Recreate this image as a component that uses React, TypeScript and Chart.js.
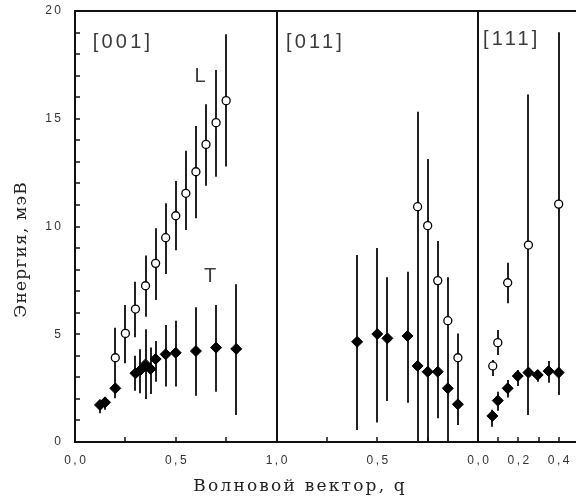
import { useEffect, useRef } from 'react';
import { Chart, registerables } from 'chart.js';
Chart.register(...registerables);

// ---- [001] direction (q from 0 to 1) ----
const L001_q = [0.20, 0.25, 0.30, 0.35, 0.40, 0.45, 0.50, 0.55, 0.60, 0.65, 0.70, 0.75];
const L001_E = [3.91, 5.04, 6.17, 7.25, 8.29, 9.48, 10.50, 11.54, 12.54, 13.81, 14.82, 15.84];
const L001_lo = [2.6, 3.65, 4.86, 5.81, 6.59, 7.8, 8.9, 9.84, 10.38, 11.89, 12.31, 12.78];
const L001_hi = [5.30, 6.36, 7.44, 8.65, 9.92, 11.08, 12.11, 13.52, 14.66, 15.67, 17.26, 18.92];

const T001_q = [0.124, 0.149, 0.20, 0.30, 0.325, 0.35, 0.375, 0.40, 0.45, 0.50, 0.60, 0.70, 0.80];
const T001_E = [1.72, 1.84, 2.49, 3.19, 3.34, 3.60, 3.39, 3.85, 4.07, 4.14, 4.22, 4.38, 4.32];
const T001_lo = [1.33, 1.5, 2.03, 2.38, 2.26, 2.0, 2.23, 2.8, 2.57, 2.57, 2.15, 2.33, 1.25];
const T001_hi = [1.9, 2.0, 2.9, 4.0, 4.3, 5.23, 4.38, 4.69, 5.43, 5.63, 6.25, 6.36, 7.32];

// ---- [011] direction (q runs from 1 back to 0) ----
const L011_q = [0.30, 0.25, 0.20, 0.15, 0.10];
const L011_E = [10.92, 10.04, 7.49, 5.63, 3.91];
const L011_lo = [3.53, 3.26, 3.26, 2.49, 1.75];
const L011_hi = [15.33, 13.13, 9.33, 7.64, 5.04];

const T011_q = [0.60, 0.50, 0.45, 0.35, 0.30, 0.25, 0.20, 0.15, 0.10];
const T011_E = [4.65, 5.01, 4.81, 4.92, 3.53, 3.26, 3.26, 2.49, 1.75];
const T011_lo = [0.56, 0.9, 1.9, 1.82, 0, 0, 1.1, 0, 0.79];
const T011_hi = [8.68, 9.0, 7.64, 7.9, 3.53, 3.26, 3.26, 2.49, 1.75];

// ---- [111] direction (q from 0) ----
const L111_q = [0.073, 0.098, 0.147, 0.25, 0.40];
const L111_E = [3.53, 4.61, 7.39, 9.14, 11.04];
const L111_lo = [3.06, 4.04, 6.44, 3.22, 3.22];
const L111_hi = [3.8, 5.2, 8.32, 16.13, 19.01];

const T111_q = [0.071, 0.098, 0.147, 0.197, 0.25, 0.296, 0.35, 0.40];
const T111_E = [1.21, 1.92, 2.49, 3.06, 3.22, 3.11, 3.29, 3.22];
const T111_lo = [0.71, 1.45, 2.07, 2.6, 1.25, 2.8, 2.75, 2.18];
const T111_hi = [1.5, 2.33, 2.88, 3.34, 3.22, 3.34, 3.76, 3.22];

// ---- axes ----
const xTickPos = [0.25, 0.5, 0.75, 1.25, 1.5, 1.75, 2.1, 2.2, 2.3, 2.4];
const xLabelPos = [0, 0.5, 1, 1.5, 2, 2.2, 2.4];
const xLabelText = ['0,0', '0,5', '1,0', '0,5', '0,0', '0,2', '0,4'];
const yTickPos = [1, 2, 3, 4, 5, 6, 7, 8, 9, 10, 11, 12, 13, 14, 15, 16, 17, 18, 19];
const yLabelVals = [0, 5, 10, 15, 20];
const panelBounds = [1, 2];
const panelNames = ['[001]', '[011]', '[111]'];

// map q of each panel onto one continuous axis
const p1 = (q: number[]) => q.map((v) => v);
const p2 = (q: number[]) => q.map((v) => 2 - v);
const p3 = (q: number[]) => q.map((v) => 2 + v);

const pts = (u: number[], e: number[]) => u.map((x, i) => ({ x, y: e[i] }));

const errGroups = [
  { u: p1(L001_q), lo: L001_lo, hi: L001_hi },
  { u: p1(T001_q), lo: T001_lo, hi: T001_hi },
  { u: p2(L011_q), lo: L011_lo, hi: L011_hi },
  { u: p2(T011_q), lo: T011_lo, hi: T011_hi },
  { u: p3(L111_q), lo: L111_lo, hi: L111_hi },
  { u: p3(T111_q), lo: T111_lo, hi: T111_hi },
];

function drawSpaced(ctx: any, text: string, x: number, y: number, align: 'left' | 'center' | 'right', ls: number) {
  ctx.letterSpacing = ls + 'px';
  const w = ctx.measureText(text).width - ls;
  let x0 = x;
  if (align === 'center') x0 = x - w / 2;
  if (align === 'right') x0 = x - w;
  ctx.textAlign = 'left';
  ctx.fillText(text, x0, y);
  ctx.letterSpacing = '0px';
}

const overlay = {
  id: 'overlay',
  beforeDatasetsDraw(chart: any) {
    const { ctx } = chart;
    const xs = chart.scales.x;
    const ys = chart.scales.y;
    ctx.save();
    ctx.strokeStyle = '#222';
    ctx.lineWidth = 2;
    errGroups.forEach((g) => {
      g.u.forEach((u, i) => {
        const px = Math.round(xs.getPixelForValue(u));
        ctx.beginPath();
        ctx.moveTo(px, ys.getPixelForValue(g.lo[i]));
        ctx.lineTo(px, ys.getPixelForValue(g.hi[i]));
        ctx.stroke();
      });
    });
    ctx.restore();
  },
  afterDraw(chart: any) {
    const { ctx } = chart;
    const xs = chart.scales.x;
    const ys = chart.scales.y;
    const { left, right, top, bottom } = chart.chartArea;
    ctx.save();
    ctx.strokeStyle = '#111';
    ctx.lineWidth = 2;
    // top frame
    ctx.beginPath();
    ctx.moveTo(left, top);
    ctx.lineTo(right, top);
    ctx.stroke();
    // panel dividers
    panelBounds.forEach((b) => {
      const px = Math.round(xs.getPixelForValue(b));
      ctx.beginPath();
      ctx.moveTo(px, top);
      ctx.lineTo(px, bottom);
      ctx.stroke();
    });
    // inward ticks
    ctx.lineWidth = 1.5;
    xTickPos.forEach((v) => {
      const px = Math.round(xs.getPixelForValue(v));
      ctx.beginPath();
      ctx.moveTo(px, bottom);
      ctx.lineTo(px, bottom - 5);
      ctx.stroke();
    });
    yTickPos.forEach((v) => {
      const py = Math.round(ys.getPixelForValue(v));
      ctx.beginPath();
      ctx.moveTo(left, py);
      ctx.lineTo(left + 5, py);
      ctx.stroke();
    });
    // tick labels
    ctx.fillStyle = '#333';
    ctx.font = '12px "Liberation Sans"';
    ctx.textBaseline = 'middle';
    xLabelPos.forEach((v, i) => {
      drawSpaced(ctx, xLabelText[i], xs.getPixelForValue(v), bottom + 19, 'center', 2.5);
    });
    yLabelVals.forEach((v) => {
      drawSpaced(ctx, String(v), left - 14, ys.getPixelForValue(v), 'right', 2.5);
    });
    // panel names
    ctx.font = '20px "Liberation Sans"';
    ctx.fillStyle = '#3a3a3a';
    const nameU = [0.088, 1.047, 2.025];
    const nameE = [18.56, 18.56, 18.7];
    panelNames.forEach((n, i) => {
      drawSpaced(ctx, n, xs.getPixelForValue(nameU[i]), ys.getPixelForValue(nameE[i]), 'left', 3.2);
    });
    ctx.font = '20px "Liberation Sans"';
    drawSpaced(ctx, 'L', xs.getPixelForValue(0.62), ys.getPixelForValue(16.94), 'center', 0);
    drawSpaced(ctx, 'T', xs.getPixelForValue(0.67), ys.getPixelForValue(7.7), 'center', 0);
    // axis titles
    ctx.fillStyle = '#222';
    ctx.font = '17px "DejaVu Serif"';
    drawSpaced(ctx, 'Волновой вектор, q', 299, 487, 'center', 2.2);
    ctx.translate(22, 250);
    ctx.rotate(-Math.PI / 2);
    drawSpaced(ctx, 'Энергия, мэВ', 0, 0, 'center', 1.2);
    ctx.restore();
  },
};

export default function App() {
  const ref = useRef<HTMLCanvasElement | null>(null);
  useEffect(() => {
    if (!ref.current) return;
    const openStyle = {
      pointStyle: 'circle',
      pointRadius: 4,
      pointBackgroundColor: '#fff',
      pointBorderColor: '#000',
      pointBorderWidth: 1.3,
      showLine: false,
    };
    const fillStyle = {
      pointStyle: 'rectRot',
      pointRadius: 5.5,
      pointBackgroundColor: '#000',
      pointBorderColor: '#000',
      pointBorderWidth: 1,
      showLine: false,
    };
    const chart = new Chart(ref.current, {
      type: 'scatter',
      data: {
        datasets: [
          { label: 'L001', data: pts(p1(L001_q), L001_E), ...openStyle },
          { label: 'T001', data: pts(p1(T001_q), T001_E), ...fillStyle },
          { label: 'L011', data: pts(p2(L011_q), L011_E), ...openStyle },
          { label: 'T011', data: pts(p2(T011_q), T011_E), ...fillStyle },
          { label: 'L111', data: pts(p3(L111_q), L111_E), ...openStyle },
          { label: 'T111', data: pts(p3(T111_q), T111_E), ...fillStyle },
        ] as any,
      },
      options: {
        animation: false,
        responsive: false,
        devicePixelRatio: 1,
        events: [],
        layout: { autoPadding: false, padding: { top: 11, right: 0, left: 0, bottom: 0 } },
        plugins: { legend: { display: false }, tooltip: { enabled: false } },
        scales: {
          x: {
            type: 'linear',
            min: 0,
            max: 2.486,
            ticks: { display: false },
            grid: { display: false },
            border: { display: true, color: '#111', width: 2 },
            afterFit: (s: any) => { s.height = 60; },
          },
          y: {
            type: 'linear',
            min: 0,
            max: 20,
            ticks: { display: false },
            grid: { display: false },
            border: { display: true, color: '#111', width: 2 },
            afterFit: (s: any) => { s.width = 75; },
          },
        },
      } as any,
      plugins: [overlay],
    });
    return () => chart.destroy();
  }, []);
  return (
    <div style={{ position: 'absolute', left: 0, top: 0, width: 576, height: 502, background: '#fff' }}>
      <canvas ref={ref} width={576} height={502} style={{ display: 'block' }} />
    </div>
  );
}
